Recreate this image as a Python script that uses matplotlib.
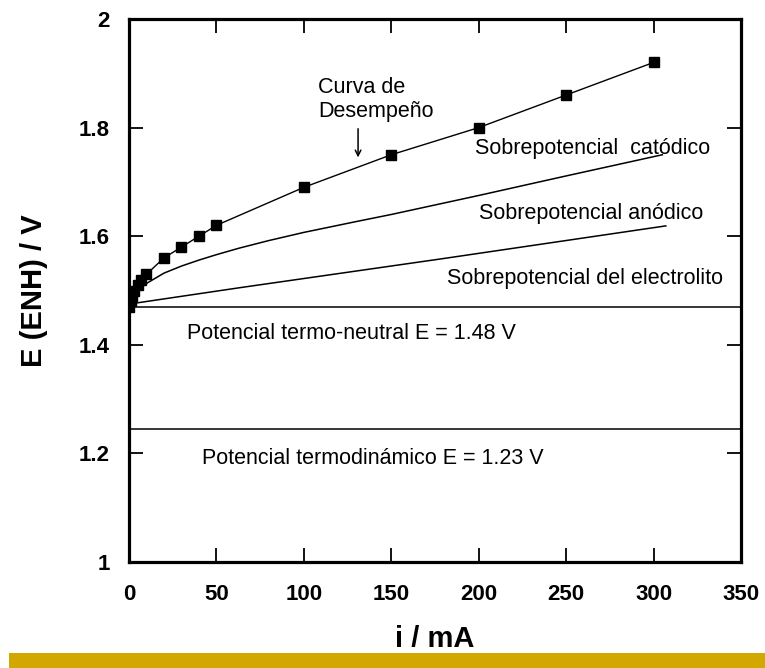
"""Curva de desempeño de un electrolizador: potencial vs corriente."""

import matplotlib.pyplot as plt
from matplotlib.patches import Rectangle

plt.rcParams['font.family'] = ['Liberation Sans', 'DejaVu Sans']

# Curva de desempeño (puntos medidos)
i_perf = [0, 1, 2, 3, 5, 7, 10, 20, 30, 40, 50, 100, 150, 200, 250, 300]
e_perf = [1.47, 1.48, 1.49, 1.50, 1.51, 1.52, 1.53, 1.56, 1.58, 1.60, 1.62,
          1.69, 1.75, 1.80, 1.86, 1.92]

# Sobrepotencial catódico (curva)
i_cat = [0, 1, 2, 5, 10, 20, 30, 40, 50, 63, 80, 100, 130, 150, 200, 250, 305]
e_cat = [1.47, 1.48, 1.487, 1.50, 1.513, 1.532, 1.545, 1.556, 1.566, 1.578,
         1.592, 1.607, 1.627, 1.640, 1.675, 1.711, 1.75]

# Sobrepotencial anódico (casi recta)
i_an = [0, 63, 178, 307]
e_an = [1.475, 1.505, 1.558, 1.619]

# Potenciales de referencia
e_neutral = 1.47
e_termo = 1.245

x_ticks = [0, 50, 100, 150, 200, 250, 300, 350]
y_ticks = [1, 1.2, 1.4, 1.6, 1.8, 2]
y_labels = ['1', '1.2', '1.4', '1.6', '1.8', '2']


def main():
    fig = plt.figure(figsize=(7.65, 6.68), dpi=100)
    ax = fig.add_axes([129 / 765, 106 / 668, 612 / 765, 543 / 668])

    ax.axhline(e_neutral, color='black', lw=1.1)
    ax.axhline(e_termo, color='black', lw=1.1)
    ax.plot(i_an, e_an, color='black', lw=1.1)
    ax.plot(i_cat, e_cat, color='black', lw=1.1)
    ax.plot(i_perf, e_perf, color='black', lw=1.0, marker='s', ms=7.8,
            markerfacecolor='black', markeredgecolor='black')

    ax.set_xlim(0, 350)
    ax.set_ylim(1, 2)
    ax.set_xticks(x_ticks)
    ax.set_yticks(y_ticks)
    ax.set_yticklabels(y_labels)
    ax.tick_params(direction='in', length=10, width=1.3, top=True, right=True,
                   labelsize=16)
    ax.tick_params(axis='x', pad=16)
    ax.tick_params(axis='y', pad=14)
    for lab in ax.get_xticklabels() + ax.get_yticklabels():
        lab.set_fontweight('bold')
    for sp in ax.spines.values():
        sp.set_linewidth(2.3)

    ax.set_xlabel('i / mA', fontsize=21, fontweight='bold', labelpad=14)
    ax.set_ylabel('E (ENH) / V', fontsize=21, fontweight='bold', labelpad=22)

    fs = 15.5
    ax.text(108, 1.852, 'Curva de\nDesempeño', fontsize=fs, ha='left',
            va='center', linespacing=1.15)
    ax.annotate('', xy=(131, 1.740), xytext=(131, 1.803),
                arrowprops=dict(arrowstyle='->', color='black', lw=1.1))
    ax.text(198, 1.762, 'Sobrepotencial  catódico', fontsize=fs, va='center')
    ax.text(200, 1.641, 'Sobrepotencial anódico', fontsize=fs, va='center')
    ax.text(182, 1.522, 'Sobrepotencial del electrolito', fontsize=fs,
            va='center')
    ax.text(33, 1.421, 'Potencial termo-neutral E = 1.48 V', fontsize=fs,
            va='center')
    ax.text(42, 1.191, 'Potencial termodinámico E = 1.23 V', fontsize=fs,
            va='center')

    fig.patches.append(Rectangle((9 / 765, 0), 1, 15 / 668,
                                 transform=fig.transFigure,
                                 facecolor='#D1A700', edgecolor='none'))

    fig.savefig('out.png', dpi=100)
    plt.close(fig)


if __name__ == '__main__':
    main()
